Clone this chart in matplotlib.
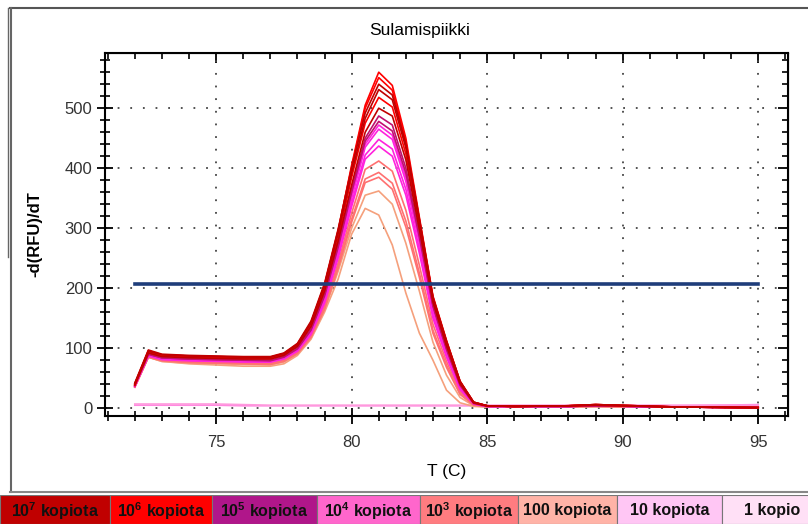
import matplotlib
matplotlib.use("Agg")
import matplotlib.pyplot as plt
from matplotlib.lines import Line2D
from matplotlib.patches import Rectangle
from matplotlib.ticker import MultipleLocator

plt.rcParams['font.family'] = ['Liberation Sans', 'DejaVu Sans']
plt.rcParams['mathtext.fontset'] = 'custom'
plt.rcParams['mathtext.rm'] = 'Liberation Sans'
plt.rcParams['mathtext.bf'] = 'Liberation Sans:bold'

# sample temperatures (C)
temps = [72, 72.5, 73, 74, 75, 76, 77, 77.5, 78, 78.5, 79, 79.5, 80, 80.5,
         81, 81.5, 82, 82.5, 83, 83.5, 84, 84.5, 85, 86, 88, 89, 92, 95]

# -d(RFU)/dT curves, grouped by dilution
kopiota_1e7 = [
    [42, 97, 90, 88, 87, 86, 86, 92, 108, 145, 208, 298, 400, 492, 540, 522, 440, 315, 185, 112, 45, 10, 4, 3, 4, 6, 2, 1],
    [41, 95, 89, 87, 86, 85, 85, 91, 106, 142, 203, 291, 392, 483, 531, 514, 434, 310, 183, 110, 44, 10, 4, 3, 4, 6, 2, 1],
    [39, 92, 86, 84, 83, 82, 82, 88, 103, 136, 195, 278, 372, 460, 500, 487, 414, 298, 177, 104, 41, 9, 4, 3, 4, 5, 2, 1],
]
kopiota_1e6 = [
    [38, 95, 88, 86, 85, 84, 84, 90, 106, 142, 205, 295, 405, 505, 560, 538, 450, 318, 187, 113, 45, 10, 4, 3, 4, 6, 2, 1],
    [40, 96, 89, 87, 86, 85, 85, 91, 107, 143, 206, 296, 402, 500, 551, 530, 444, 314, 185, 111, 44, 10, 4, 3, 4, 6, 2, 1],
    [40, 93, 87, 85, 84, 83, 83, 89, 104, 138, 198, 283, 385, 475, 518, 502, 424, 302, 180, 106, 42, 9, 4, 3, 4, 5, 2, 1],
]
kopiota_1e5 = [
    [38, 90, 84, 82, 81, 80, 80, 86, 100, 132, 190, 272, 365, 450, 487, 472, 400, 290, 172, 100, 40, 9, 4, 3, 3, 4, 2, 1],
    [38, 90, 84, 82, 81, 80, 79, 85, 99, 130, 187, 268, 360, 445, 478, 462, 392, 285, 170, 98, 38, 8, 3, 3, 3, 4, 2, 1],
]
kopiota_1e4 = [
    [37, 89, 83, 81, 80, 79, 79, 84, 98, 128, 184, 264, 355, 440, 472, 455, 385, 280, 165, 95, 36, 8, 3, 3, 3, 4, 2, 1],
    [37, 88, 82, 80, 79, 78, 78, 83, 97, 127, 182, 260, 350, 435, 465, 448, 378, 275, 162, 93, 35, 8, 3, 3, 3, 4, 2, 1],
    [37, 88, 82, 80, 79, 78, 77, 83, 96, 125, 178, 254, 342, 422, 448, 432, 365, 265, 155, 88, 33, 7, 3, 3, 3, 4, 2, 1],
    [36, 87, 81, 79, 78, 77, 77, 82, 95, 123, 175, 250, 336, 415, 437, 420, 355, 258, 150, 85, 31, 7, 3, 3, 3, 4, 2, 1],
]
kopiota_1e3 = [
    [36, 86, 80, 78, 77, 76, 75, 80, 93, 121, 170, 242, 325, 398, 412, 395, 330, 238, 140, 78, 28, 6, 3, 2, 3, 3, 2, 1],
    [36, 86, 80, 77, 76, 75, 74, 79, 92, 119, 167, 237, 315, 382, 393, 375, 312, 225, 130, 72, 25, 6, 3, 2, 3, 3, 2, 1],
    [35, 85, 79, 76, 75, 74, 73, 78, 91, 118, 165, 233, 310, 376, 385, 365, 302, 218, 125, 68, 23, 5, 3, 2, 3, 3, 2, 1],
]
kopiota_100 = [
    [35, 85, 78, 75, 74, 73, 72, 77, 90, 117, 163, 228, 300, 355, 362, 340, 275, 195, 110, 55, 18, 4, 2, 2, 2, 3, 2, 1],
    [36, 85, 78, 74, 72, 70, 70, 74, 88, 115, 160, 215, 290, 333, 322, 272, 192, 125, 80, 30, 9, 3, 2, 2, 2, 3, 2, 1],
]
kopiota_10 = [
    [7, 7, 7, 7, 7, 6, 5, 5, 5, 5, 5, 5, 5, 5, 5, 5, 5, 5, 5, 5, 5, 5, 5, 5, 5, 5, 5, 5],
]
kopio_1 = [
    [5, 5, 5, 5, 5, 4, 4, 4, 4, 4, 4, 4, 4, 4, 4, 4, 4, 4, 4, 4, 4, 4, 4, 4, 4, 4, 4, 6],
]

threshold = 207

legend_labels = [r"$\mathbf{10^7}$ kopiota", r"$\mathbf{10^6}$ kopiota", r"$\mathbf{10^5}$ kopiota",
                 r"$\mathbf{10^4}$ kopiota", r"$\mathbf{10^3}$ kopiota", "100 kopiota",
                 "10 kopiota", "1 kopio"]
legend_colors = ["#C00000", "#FF0000", "#B0168A", "#FF66CC", "#FF7C80", "#FFB3A7", "#FFC6F4", "#FFE0F6"]
line_colors = ["#C00000", "#FF0000", "#C0106E", "#FF22DD", "#FF7070", "#F5A07C", "#FF99DD", "#FF88E0"]
groups = [kopiota_1e7, kopiota_1e6, kopiota_1e5, kopiota_1e4, kopiota_1e3, kopiota_100, kopiota_10, kopio_1]

W, H = 808, 524
fig = plt.figure(figsize=(W / 100, H / 100), dpi=100)
ax = fig.add_axes([105 / W, 1 - 416 / H, (788 - 105) / W, (416 - 53) / H])

# draw low groups first so the strong peaks sit on top
for curves, col in reversed(list(zip(groups, line_colors))):
    for c in curves:
        ax.plot(temps, c, color=col, lw=1.2, zorder=3)

ax.plot([temps[0], temps[-1]], [threshold, threshold], color="#1F3D7A", lw=2.6, zorder=4)

ax.set_xlim(70.9, 96.1)
ax.set_ylim(-13, 592)
ax.xaxis.set_major_locator(MultipleLocator(5))
ax.xaxis.set_minor_locator(MultipleLocator(1))
ax.yaxis.set_major_locator(MultipleLocator(100))
ax.yaxis.set_minor_locator(MultipleLocator(20))
ax.grid(True, which='major', color="#444444", linestyle=(0, (1, 6)), lw=1.3)
ax.tick_params(which='major', direction='inout', length=11, width=1.3, labelsize=12, colors='black', labelcolor='#333333')
ax.tick_params(which='minor', direction='inout', length=7, width=1.2)
ax.tick_params(axis='x', pad=8)
for s in ax.spines.values():
    s.set_linewidth(1.5)

top = ax.secondary_xaxis('top')
top.xaxis.set_major_locator(MultipleLocator(5))
top.xaxis.set_minor_locator(MultipleLocator(1))
top.tick_params(which='major', direction='in', length=7, width=1.3, labeltop=False)
top.tick_params(which='minor', direction='in', length=4, width=1.2)
right = ax.secondary_yaxis('right')
right.yaxis.set_major_locator(MultipleLocator(100))
right.yaxis.set_minor_locator(MultipleLocator(20))
right.tick_params(which='major', direction='in', length=7, width=1.3, labelright=False)
right.tick_params(which='minor', direction='in', length=4, width=1.2)

ax.set_xlabel("T (C)", fontsize=12.5, labelpad=10)
ax.set_ylabel("-d(RFU)/dT", fontsize=12, fontweight='bold', labelpad=16)
fig.text(420 / W, 1 - 30 / H, "Sulamispiikki", ha='center', va='center', fontsize=12.5)

# window frame
fig.add_artist(Line2D([10 / W, 1], [1 - 8 / H, 1 - 8 / H], color="#555555", lw=1.5))
fig.add_artist(Line2D([11 / W, 11 / W], [1 - 8 / H, 1 - 492 / H], color="#666666", lw=1.5))
fig.add_artist(Line2D([8 / W, 8 / W], [1 - 8 / H, 1 - 257 / H], color="#666666", lw=1.0))
fig.add_artist(Line2D([10 / W, 1], [1 - 492 / H, 1 - 492 / H], color="#888888", lw=1.5))

# colour legend strip
leg = fig.add_axes([0, 0, 1, 29 / H])
leg.set_xlim(0, W)
leg.set_ylim(0, 1)
leg.axis('off')
edges = [0, 110, 212, 317, 420, 518, 617, 722, 820]
for i, (lab, col) in enumerate(zip(legend_labels, legend_colors)):
    x0, x1 = edges[i], edges[i + 1]
    leg.add_patch(Rectangle((x0, 0), x1 - x0, 1, facecolor=col, edgecolor="#777777", lw=0.8))
    leg.text((x0 + x1) / 2 if i < 7 else 772, 0.45, lab, ha='center', va='center',
             fontsize=11.5, fontweight='bold', color="#111111")

fig.savefig("out.png", dpi=100)
